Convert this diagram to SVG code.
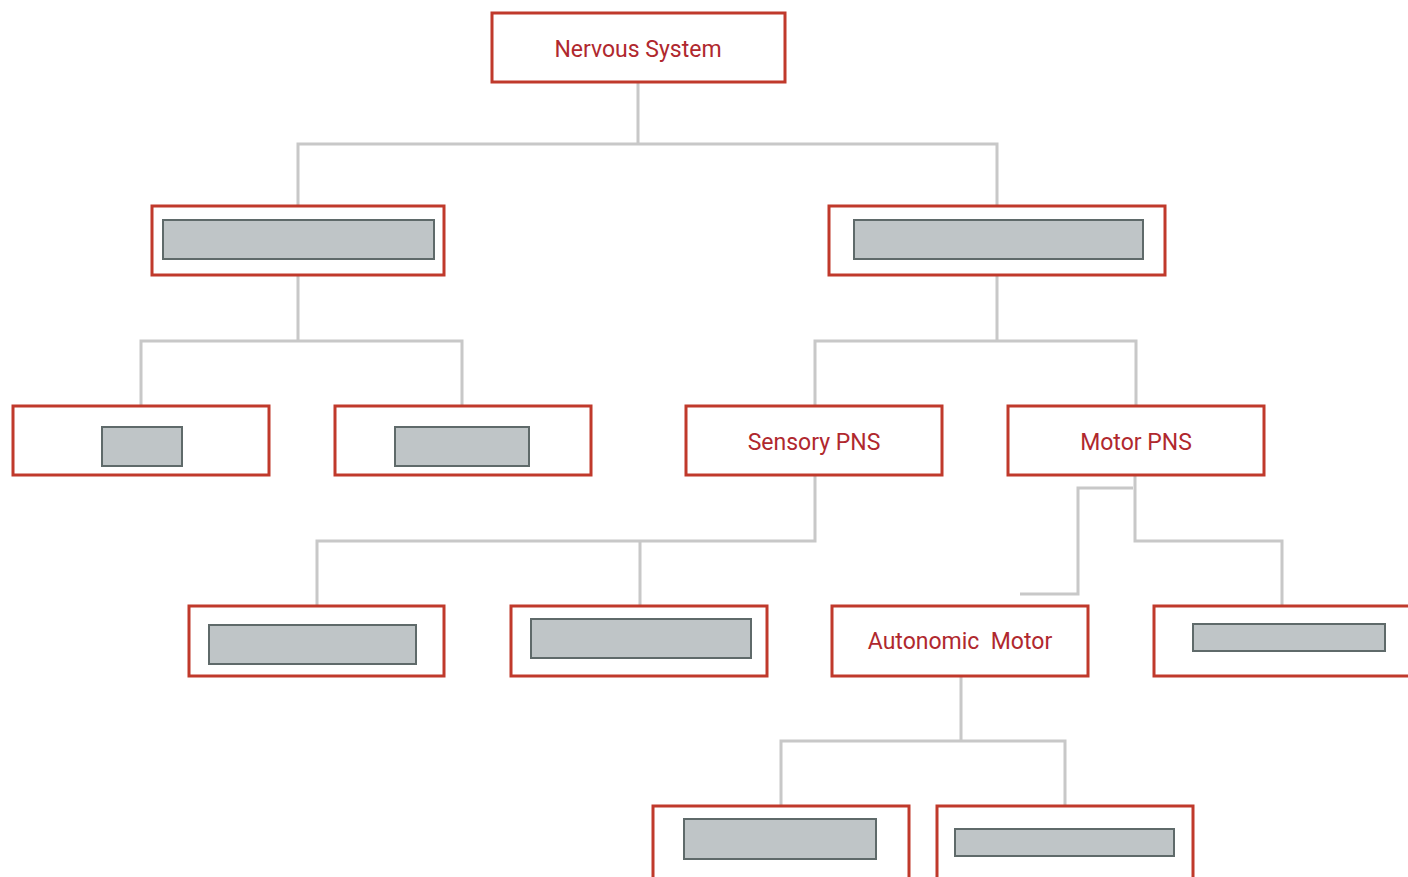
<svg xmlns="http://www.w3.org/2000/svg" width="1408" height="877" viewBox="0 0 1408 877">
<style>
.box{fill:#fff;stroke:#c0392b;stroke-width:3}
.ph{fill:#bfc5c7;stroke:#5f6a6a;stroke-width:2}
.lbl{font-family:Roboto,"Liberation Sans",sans-serif;font-size:23px;fill:#b0282e;text-anchor:middle;dominant-baseline:central}
.c{fill:none;stroke:#c8c8c8;stroke-width:3}
</style>
<rect width="1408" height="877" fill="#fff"/>
<g id="connectors">
<path class="c" d="M638 82V144M298 206V144H997V206"/>
<path class="c" d="M298 275V341M141 406V341H462V406"/>
<path class="c" d="M997 275V341M815 406V341H1136V406"/>
<path class="c" d="M815 475V541H317V606M640 541V614"/>
<path class="c" d="M1135 475V541H1282V606"/>
<path class="c" d="M1133 488H1078V594H1020"/>
<path class="c" d="M961 676V741M781 806V741H1065V806"/>
</g>
<g id="n-nervous"><rect class="box" x="492" y="13" width="293" height="69"/><text class="lbl" x="638" y="49">Nervous System</text></g>
<g id="n-l1a"><rect class="box" x="152" y="206" width="292" height="69"/><rect class="ph" x="163" y="220" width="271" height="39"/></g>
<g id="n-l1b"><rect class="box" x="829" y="206" width="336" height="69"/><rect class="ph" x="854" y="220" width="289" height="39"/></g>
<g id="n-l2a"><rect class="box" x="13" y="406" width="256" height="69"/><rect class="ph" x="102" y="427" width="80" height="39"/></g>
<g id="n-l2b"><rect class="box" x="335" y="406" width="256" height="69"/><rect class="ph" x="395" y="427" width="134" height="39"/></g>
<g id="n-sensory"><rect class="box" x="686" y="406" width="256" height="69"/><text class="lbl" x="814" y="442">Sensory PNS</text></g>
<g id="n-motor"><rect class="box" x="1008" y="406" width="256" height="69"/><text class="lbl" x="1136" y="442">Motor PNS</text></g>
<g id="n-l3a"><rect class="box" x="189" y="606" width="255" height="70"/><rect class="ph" x="209" y="625" width="207" height="39"/></g>
<g id="n-l3b"><rect class="box" x="511" y="606" width="256" height="70"/><rect class="ph" x="531" y="619" width="220" height="39"/></g>
<g id="n-autonomic"><rect class="box" x="832" y="606" width="256" height="70"/><text class="lbl" x="960" y="641" xml:space="preserve">Autonomic  Motor</text></g>
<g id="n-l3d"><rect class="box" x="1154" y="606" width="260" height="70"/><rect class="ph" x="1193" y="624" width="192" height="27"/></g>
<g id="n-l4a"><rect class="box" x="653" y="806" width="256" height="80"/><rect class="ph" x="684" y="819" width="192" height="40"/></g>
<g id="n-l4b"><rect class="box" x="937" y="806" width="256" height="80"/><rect class="ph" x="955" y="829" width="219" height="27"/></g>
</svg>
